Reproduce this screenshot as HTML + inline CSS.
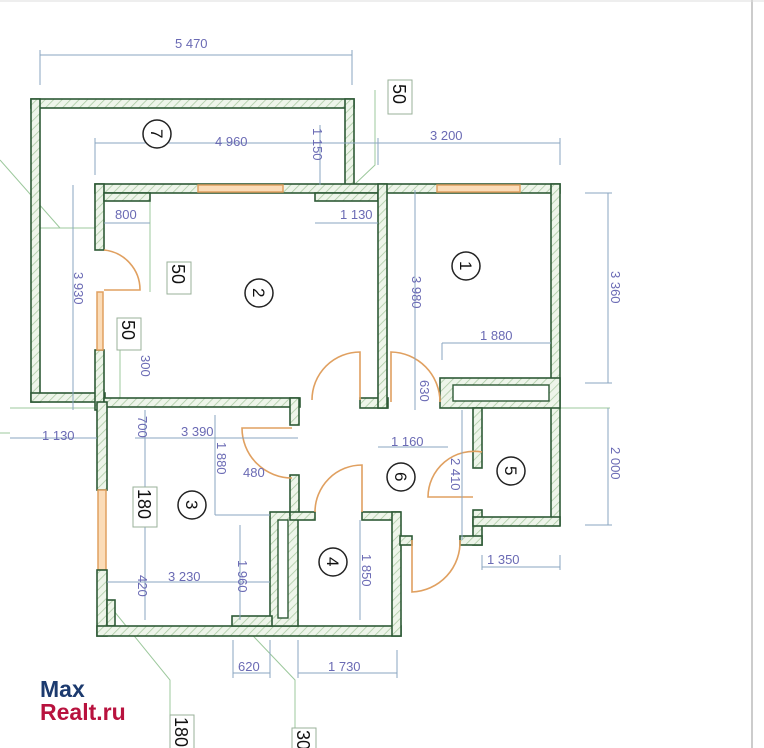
<!DOCTYPE html>
<html><head><meta charset="utf-8"><style>
html,body{margin:0;padding:0;background:#fff;width:764px;height:748px;overflow:hidden}
svg{display:block}
.d{font-family:"Liberation Sans",sans-serif;font-size:13px;fill:#6a6ab4}
.dl{stroke:#8aa6c0;stroke-width:1;fill:none}
.w{fill:url(#h);stroke:#2e5a36;stroke-width:1.6}
.win{fill:#fbdcb8;stroke:#e0a060;stroke-width:1.5}
.dr{fill:none;stroke:#e0a060;stroke-width:1.6}
.bx{fill:#fff;stroke:#9ab09a;stroke-width:1}
.bt{font-family:"Liberation Sans",sans-serif;font-size:18px;fill:#111}
.c{fill:#fff;stroke:#222;stroke-width:1.5}
.ct{font-family:"Liberation Sans",sans-serif;font-size:17px;fill:#111}
.g{stroke:#9cc89c;stroke-width:1;fill:none}
</style></head><body>
<svg width="764" height="748" viewBox="0 0 764 748" xmlns="http://www.w3.org/2000/svg">
<defs><pattern id="h" width="6" height="6" patternUnits="userSpaceOnUse" patternTransform="rotate(45)"><rect width="6" height="6" fill="#eef5ea"/><line x1="0" y1="0" x2="0" y2="6" stroke="#a8c8a0" stroke-width="1.5"/></pattern></defs>
<line x1="752" y1="0" x2="752" y2="748" stroke="#bbb" stroke-width="1.5"/>
<line x1="0" y1="1" x2="764" y2="1" stroke="#ddd"/>
<!-- green guides -->
<path class="g" d="M0,160 L60,228 M40,228 L97,228 M116,190 L150,200 L150,292 M120,320 L120,400 M354,185 L375,165 L375,90 M10,408 L97,408 M105,600 L170,680 L170,748 M238,620 L295,680 L295,748 M560,408 L610,408 M0,433 L10,433"/>
<!-- walls -->
<rect class="w" x="31" y="99" width="323" height="9"/>
<rect class="w" x="31" y="99" width="9" height="303"/>
<rect class="w" x="345" y="99" width="9" height="94"/>
<rect class="w" x="31" y="393" width="74" height="9"/>
<rect class="w" x="95" y="184" width="465" height="9"/>
<rect class="win" x="198" y="185" width="85" height="7"/>
<rect class="win" x="437" y="185" width="83" height="7"/>
<rect class="w" x="95" y="184" width="9" height="66"/>
<rect class="w" x="95" y="350" width="9" height="60"/>
<rect class="win" x="97" y="292" width="6" height="58"/>
<rect class="w" x="104" y="193" width="46" height="8"/>
<rect class="w" x="315" y="193" width="63" height="8"/>
<rect class="w" x="104" y="398" width="196" height="9"/>
<rect class="w" x="290" y="398" width="9" height="27"/>
<rect class="w" x="360" y="398" width="28" height="10"/>
<rect class="w" x="378" y="184" width="9" height="224"/>
<rect class="w" x="551" y="184" width="9" height="341"/>
<rect class="w" x="440" y="378" width="120" height="30"/>
<rect x="453" y="385" width="96" height="16" fill="#fff" stroke="#2e5a36" stroke-width="1.4"/>
<rect class="w" x="473" y="408" width="9" height="60"/>
<rect class="w" x="473" y="510" width="9" height="35"/>
<rect class="w" x="473" y="517" width="87" height="9"/>
<rect class="w" x="460" y="536" width="22" height="9"/>
<rect class="w" x="97" y="402" width="10" height="88"/>
<rect class="win" x="98" y="490" width="8" height="80"/>
<rect class="w" x="97" y="570" width="10" height="66"/>
<rect class="w" x="107" y="600" width="8" height="26"/>
<rect class="w" x="97" y="626" width="304" height="10"/>
<rect class="w" x="270" y="512" width="28" height="114"/>
<rect x="278" y="520" width="10" height="98" fill="#fff" stroke="#2e5a36" stroke-width="1.4"/>
<rect class="w" x="290" y="475" width="9" height="40"/>
<rect class="w" x="232" y="616" width="40" height="10"/>
<rect class="w" x="290" y="512" width="25" height="8"/>
<rect class="w" x="362" y="512" width="38" height="8"/>
<rect class="w" x="392" y="512" width="9" height="124"/>
<rect class="w" x="400" y="536" width="12" height="9"/>
<!-- doors -->
<path class="dr" d="M104,250 A40,40 0 0 1 140,290 L104,290"/>
<path class="dr" d="M312,400 A48,48 0 0 1 360,352 L360,400"/>
<path class="dr" d="M292,428 L242,428 A50,50 0 0 0 292,478"/>
<path class="dr" d="M315,512 A47,47 0 0 1 362,465 L362,512"/>
<path class="dr" d="M391,402 L391,352 A50,50 0 0 1 440,402"/>
<path class="dr" d="M482,452 A46,46 0 0 0 428,497 L473,497"/>
<path class="dr" d="M412,540 L412,592 A50,50 0 0 0 460,540"/>
<!-- dimension lines -->
<path class="dl" d="M40,55 H352 M40,50 V85 M352,50 V85 M95,143 H560 M95,138 V175 M378,138 V165 M560,138 V165 M104,223 H150 M315,223 H378 M73,185 V410 M608,193 V383 M585,193 H612 M585,383 H612 M442,343 H551 M442,343 V360 M135,438 H298 M10,438 H97 M378,447 H448 M608,408 V525 M585,525 H612 M107,582 H270 M482,567 H560 M482,555 V570 M560,555 V570 M233,673 H270 M298,673 H397 M233,640 V678 M270,640 V678 M298,640 V678 M397,650 V678 M320,125 V185 M415,190 V410 M215,415 V515 M215,515 H270 M240,525 V620 M360,520 V620 M462,410 V540 M145,410 V620"/>
<!-- dim texts -->
<g class="d">
<text x="175" y="48">5 470</text>
<text x="215" y="146">4 960</text>
<text x="430" y="140">3 200</text>
<text x="115" y="219">800</text>
<text x="340" y="219">1 130</text>
<text x="480" y="340">1 880</text>
<text x="181" y="436">3 390</text>
<text x="42" y="440">1 130</text>
<text x="391" y="446">1 160</text>
<text x="243" y="477">480</text>
<text x="168" y="581">3 230</text>
<text x="487" y="564">1 350</text>
<text x="238" y="671">620</text>
<text x="328" y="671">1 730</text>
<text transform="translate(313,128) rotate(90)">1 150</text>
<text transform="translate(74,272) rotate(90)">3 930</text>
<text transform="translate(412,276) rotate(90)">3 980</text>
<text transform="translate(611,271) rotate(90)">3 360</text>
<text transform="translate(141,355) rotate(90)">300</text>
<text transform="translate(138,416) rotate(90)">700</text>
<text transform="translate(217,442) rotate(90)">1 880</text>
<text transform="translate(451,458) rotate(90)">2 410</text>
<text transform="translate(611,447) rotate(90)">2 000</text>
<text transform="translate(420,380) rotate(90)">630</text>
<text transform="translate(138,575) rotate(90)">420</text>
<text transform="translate(238,560) rotate(90)">1 960</text>
<text transform="translate(362,554) rotate(90)">1 850</text>
</g>
<!-- boxed labels -->
<rect class="bx" x="388" y="80" width="24" height="34"/><text class="bt" transform="translate(393,84) rotate(90)">50</text>
<rect class="bx" x="167" y="262" width="24" height="32"/><text class="bt" transform="translate(172,264) rotate(90)">50</text>
<rect class="bx" x="117" y="318" width="24" height="32"/><text class="bt" transform="translate(122,320) rotate(90)">50</text>
<rect class="bx" x="133" y="487" width="24" height="40"/><text class="bt" transform="translate(138,489) rotate(90)">180</text>
<rect class="bx" x="170" y="715" width="24" height="40"/><text class="bt" transform="translate(175,717) rotate(90)">180</text>
<rect class="bx" x="292" y="728" width="24" height="30"/><text class="bt" transform="translate(297,730) rotate(90)">30</text>
<!-- room circles -->
<g>
<circle class="c" cx="157" cy="134" r="14"/><text class="ct" transform="translate(151,129) rotate(90)">7</text>
<circle class="c" cx="259" cy="293" r="14"/><text class="ct" transform="translate(253,288) rotate(90)">2</text>
<circle class="c" cx="466" cy="266" r="14"/><text class="ct" transform="translate(460,261) rotate(90)">1</text>
<circle class="c" cx="401" cy="477" r="14"/><text class="ct" transform="translate(395,472) rotate(90)">6</text>
<circle class="c" cx="511" cy="471" r="14"/><text class="ct" transform="translate(505,466) rotate(90)">5</text>
<circle class="c" cx="192" cy="505" r="14"/><text class="ct" transform="translate(186,500) rotate(90)">3</text>
<circle class="c" cx="333" cy="562" r="14"/><text class="ct" transform="translate(327,557) rotate(90)">4</text>
</g>
<!-- logo -->
<text x="40" y="697" font-family="Liberation Sans,sans-serif" font-weight="bold" font-size="23" fill="#1c3a6e">Max</text>
<text x="40" y="720" font-family="Liberation Sans,sans-serif" font-weight="bold" font-size="23" fill="#b8123e">Realt.ru</text>
</svg>
</body></html>
